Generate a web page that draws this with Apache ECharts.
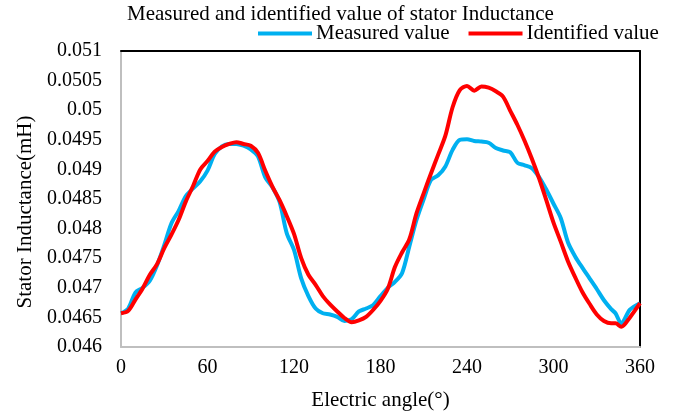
<!DOCTYPE html>
<html>
<head>
<meta charset="utf-8">
<script src="https://cdn.jsdelivr.net/npm/echarts@6/dist/echarts.min.js"></script>
<style>html,body{margin:0;padding:0;background:#fff}#c{width:678px;height:420px}</style>
</head>
<body>
<div id="c"></div>
<script>
var angles = [0,5,10,15,20,25,30,35,40,45,50,55,60,65,70,75,80,85,90,95,100,105,110,115,120,125,130,135,140,145,150,155,160,165,170,175,180,185,190,195,200,205,210,215,220,225,230,235,240,245,250,255,260,265,270,275,280,285,290,295,300,305,310,315,320,325,330,335,340,343,347,353,360];
var measured = [0.04657,0.04665,0.04692,0.04700,0.04712,0.04738,0.04772,0.04809,0.04830,0.04855,0.04868,0.04880,0.04898,0.04926,0.04939,0.04943,0.04943,0.04940,0.04934,0.04922,0.04887,0.04870,0.04845,0.04792,0.04764,0.04716,0.04686,0.04665,0.04657,0.04655,0.04651,0.04644,0.04647,0.04660,0.04665,0.04671,0.04686,0.04700,0.04710,0.04725,0.04770,0.04815,0.04850,0.04882,0.04890,0.04905,0.04933,0.04950,0.04951,0.04948,0.04947,0.04945,0.04936,0.04932,0.04929,0.04911,0.04907,0.04902,0.04887,0.04866,0.04842,0.04818,0.04777,0.04753,0.04734,0.04716,0.04698,0.04679,0.04664,0.04657,0.04640,0.04663,0.04674];
var identified = [0.04657,0.04661,0.04680,0.04699,0.04722,0.04740,0.04767,0.04790,0.04815,0.04846,0.04872,0.04900,0.04914,0.04930,0.04938,0.04943,0.04946,0.04943,0.04940,0.04928,0.04898,0.04871,0.04848,0.04821,0.04791,0.04750,0.04722,0.04705,0.04686,0.04672,0.04660,0.04649,0.04642,0.04645,0.04651,0.04663,0.04678,0.04698,0.04735,0.04760,0.04782,0.04826,0.04860,0.04893,0.04925,0.04957,0.05005,0.05034,0.05041,0.05033,0.05040,0.05038,0.05032,0.05023,0.04999,0.04975,0.04948,0.04918,0.04885,0.04848,0.04810,0.04778,0.04745,0.04718,0.04693,0.04673,0.04655,0.04644,0.04640,0.04640,0.04634,0.04650,0.04674];
var seriesNames = ['Measured value', 'Identified value'];
var titleText = 'Measured and identified value of stator Inductance';
var xName = 'Electric angle(°)';
var yName = 'Stator Inductance(mH)';

function pairs(ys){ return angles.map(function(a,i){ return [a, ys[i]]; }); }
var FONT = '"Liberation Serif","Times New Roman",serif';
var chart = echarts.init(document.getElementById('c'), null, {renderer:'canvas'});
chart.setOption({
  animation: false,
  backgroundColor: '#ffffff',
  title: {
    text: titleText, left: 122, top: -1,
    textStyle: {fontFamily: FONT, fontSize: 21, fontWeight: 'normal', color: '#000'}
  },
  legend: {
    data: seriesNames, left: 253, top: 18,
    icon: 'rect', itemWidth: 54, itemHeight: 4, itemGap: 19,
    textStyle: {fontFamily: FONT, fontSize: 21, color: '#000', padding: [0,0,0,-1]}
  },
  grid: {left: 121, right: 38, top: 51, bottom: 73},
  xAxis: [{
    type: 'value', min: 0, max: 360, interval: 60,
    name: xName, nameLocation: 'middle', nameGap: 43,
    nameTextStyle: {fontFamily: FONT, fontSize: 21, color: '#000'},
    axisLine: {show: true, onZero: false, lineStyle: {color: '#bfbfbf', width: 2}},
    axisTick: {show: false}, splitLine: {show: false},
    axisLabel: {fontFamily: FONT, fontSize: 20, color: '#000', margin: 11}
  }, {
    type: 'value', min: 0, max: 360, position: 'top',
    axisLine: {show: true, onZero: false, lineStyle: {color: '#000', width: 2}},
    axisTick: {show: false}, axisLabel: {show: false}, splitLine: {show: false}
  }],
  yAxis: [{
    type: 'value', min: 0.046, max: 0.051, interval: 0.0005,
    name: yName, nameLocation: 'middle', nameGap: 85, nameRotate: 90,
    nameTextStyle: {fontFamily: FONT, fontSize: 21, color: '#000', padding: [0,26,0,0]},
    axisLine: {show: true, onZero: false, lineStyle: {color: '#bfbfbf', width: 2}},
    axisTick: {show: false}, splitLine: {show: false},
    axisLabel: {fontFamily: FONT, fontSize: 20, color: '#000', margin: 19,
      formatter: function(v){ return String(+v.toFixed(4)); }}
  }, {
    type: 'value', min: 0.046, max: 0.051, position: 'right',
    axisLine: {show: true, onZero: false, lineStyle: {color: '#000', width: 2}},
    axisTick: {show: false}, axisLabel: {show: false}, splitLine: {show: false}
  }],
  series: [{
    name: seriesNames[0], type: 'line', data: pairs(measured),
    smooth: 0.3, showSymbol: false, symbol: 'none',
    lineStyle: {color: '#00B0F0', width: 4}, itemStyle: {color: '#00B0F0'}
  }, {
    name: seriesNames[1], type: 'line', data: pairs(identified),
    smooth: 0.3, showSymbol: false, symbol: 'none',
    lineStyle: {color: '#FF0000', width: 4}, itemStyle: {color: '#FF0000'}
  }]
});
</script>
</body>
</html>
